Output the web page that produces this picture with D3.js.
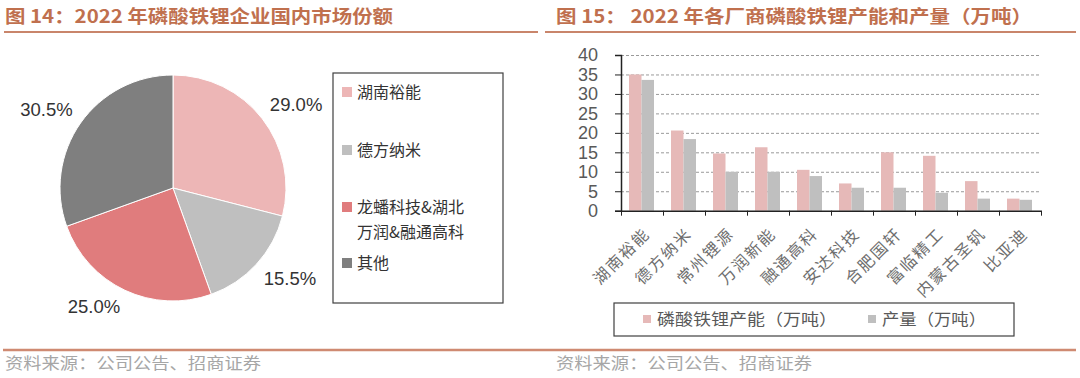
<!DOCTYPE html>
<html>
<head>
<meta charset="utf-8">
<script src="https://cdn.jsdelivr.net/npm/d3@7"></script>
<style>
  html, body { margin: 0; padding: 0; background: #fff; }
  svg { display: block; }
</style>
</head>
<body>
<div id="chart"></div>
<script>
// ---- data ----
const pieNames = ["湖南裕能", "德方纳米", "龙蟠科技&湖北万润&融通高科", "其他"];
const pieLegendLines = [["湖南裕能"], ["德方纳米"], ["龙蟠科技&湖北", "万润&融通高科"], ["其他"]];
const pieShares = [29.0, 15.5, 25.0, 30.5];
const pieColors = ["#edb6b6", "#bfbfbf", "#e07c7d", "#7f7f7f"];

const companies = ["湖南裕能", "德方纳米", "常州锂源", "万润新能", "融通高科", "安达科技", "合肥国轩", "富临精工", "内蒙古圣钒", "比亚迪"];
const capacity = [35.0, 20.6, 14.7, 16.3, 10.5, 7.0, 15.0, 14.1, 7.6, 3.1];
const output = [33.6, 18.4, 10.0, 10.0, 8.9, 5.9, 5.9, 4.6, 3.1, 2.8];
const seriesNames = ["磷酸铁锂产能（万吨）", "产量（万吨）"];
const seriesColors = ["#e6b9b8", "#bfbfbf"];
const yTicks = [0, 5, 10, 15, 20, 25, 30, 35, 40];

const W = 1080, H = 378;
const titleColor = "#c0704e";
const cjk = "'Noto Sans CJK SC', sans-serif";
const latin = "'Liberation Sans', Arial, sans-serif";

const svg = d3.select("#chart").append("svg")
  .attr("width", W).attr("height", H);

// ---- titles & rules ----
svg.append("text").attr("x", 5).attr("y", 23)
  .attr("textLength", 388).attr("lengthAdjust", "spacingAndGlyphs")
  .style("font-family", cjk).style("font-size", "18px").style("font-weight", "bold")
  .attr("fill", titleColor)
  .text("图 14：2022 年磷酸铁锂企业国内市场份额");
svg.append("text").attr("x", 556).attr("y", 23)
  .attr("textLength", 476).attr("lengthAdjust", "spacingAndGlyphs")
  .style("font-family", cjk).style("font-size", "18px").style("font-weight", "bold")
  .attr("fill", titleColor)
  .text("图 15：  2022 年各厂商磷酸铁锂产能和产量（万吨）");

svg.append("line").attr("x1", 4).attr("x2", 538).attr("y1", 32).attr("y2", 32)
  .attr("stroke", "#c9856b").attr("stroke-width", 2);
svg.append("line").attr("x1", 545).attr("x2", 1076).attr("y1", 32).attr("y2", 32)
  .attr("stroke", "#c9856b").attr("stroke-width", 2);
svg.append("line").attr("x1", 3).attr("x2", 1076).attr("y1", 350).attr("y2", 350)
  .attr("stroke", "#cf8a72").attr("stroke-width", 2.5);

[5, 556].forEach(x0 => {
  svg.append("text").attr("x", x0).attr("y", 369)
    .attr("textLength", 256).attr("lengthAdjust", "spacingAndGlyphs")
    .style("font-family", cjk).style("font-size", "16px")
    .attr("fill", "#a6a6a6")
    .text("资料来源：公司公告、招商证券");
});

// ---- pie ----
const cx = 173, cy = 188, R = 113;
const pieG = svg.append("g").attr("transform", `translate(${cx},${cy})`);
const pie = d3.pie().sort(null).value(d => d)(pieShares);
const arc = d3.arc().innerRadius(0).outerRadius(R);
const labelArc = d3.arc().innerRadius(R + 8).outerRadius(R + 8);

pieG.selectAll("path.slice").data(pie).join("path")
  .attr("class", "slice")
  .attr("d", arc)
  .attr("fill", (d, i) => pieColors[i])
  .attr("stroke", "#fff").attr("stroke-width", 1);

// outside-end labels: box corner sits just outside the rim
const lblW = 55, lblH = 18;
pieG.selectAll("text.pct").data(pie).join("text")
  .attr("class", "pct")
  .attr("transform", d => {
    const [px, py] = labelArc.centroid(d);
    return `translate(${px + Math.sign(px) * lblW / 2},${py + Math.sign(py) * lblH / 2})`;
  })
  .attr("text-anchor", "middle").attr("dy", "0.35em")
  .style("font-family", latin).style("font-size", "18.5px")
  .attr("fill", "#333")
  .text(d => d.data.toFixed(1) + "%");

// pie legend
svg.append("rect").attr("x", 333).attr("y", 73).attr("width", 170).attr("height", 230)
  .attr("fill", "none").attr("stroke", "#404040").attr("stroke-width", 1.2);
const pieLegendY = [98, 156, 213, 269];
pieLegendLines.forEach((lines, i) => {
  svg.append("rect").attr("x", 342).attr("y", pieLegendY[i] - 11).attr("width", 10).attr("height", 10)
    .attr("fill", pieColors[i]);
  lines.forEach((ln, j) => {
    svg.append("text").attr("x", 357).attr("y", pieLegendY[i] + j * 25)
      .style("font-family", cjk).style("font-size", "16px")
      .attr("fill", "#333")
      .text(ln);
  });
});

// ---- bar chart ----
const x0 = 621, x1 = 1041, yTop = 55, yBot = 210.7;
const x = d3.scaleBand().domain(companies).range([x0, x1]).padding(0);
const xs = d3.scaleBand().domain(seriesNames).range([8, 33]).padding(0);
const y = d3.scaleLinear().domain([0, 40]).range([yBot, yTop]);

// gridlines
svg.append("g").attr("transform", `translate(${x0},0)`)
  .call(d3.axisLeft(y).tickValues(yTicks.slice(1)).tickSize(-(x1 - x0)).tickFormat(""))
  .call(g => g.select(".domain").remove())
  .call(g => g.selectAll("line").attr("stroke", "#9a9a9a").attr("stroke-dasharray", "3,2").attr("stroke-width", 1));

// bars
const barData = companies.map((c, i) => ({ c, vals: [capacity[i], output[i]] }));
const groups = svg.selectAll("g.grp").data(barData).join("g")
  .attr("class", "grp")
  .attr("transform", d => `translate(${x(d.c)},0)`);
groups.selectAll("rect").data(d => d.vals.map((v, k) => ({ v, k }))).join("rect")
  .attr("x", d => xs(seriesNames[d.k]))
  .attr("width", xs.bandwidth())
  .attr("y", d => y(d.v))
  .attr("height", d => yBot - y(d.v))
  .attr("fill", d => seriesColors[d.k]);

// y axis
svg.append("g").attr("transform", `translate(${x0},0)`)
  .call(d3.axisLeft(y).tickValues(yTicks).tickSize(6).tickPadding(17))
  .call(g => g.select(".domain").attr("stroke", "#222").attr("stroke-width", 1.5))
  .call(g => g.selectAll("line").attr("stroke", "#222"))
  .call(g => g.selectAll("text").style("font-family", latin).style("font-size", "18px").attr("fill", "#595959"));

// x axis (ticks at category boundaries)
const xb = d3.scaleLinear().domain([0, companies.length]).range([x0, x1]);
svg.append("g").attr("transform", `translate(0,${yBot})`)
  .call(d3.axisBottom(xb).ticks(companies.length).tickSize(5).tickSizeOuter(0).tickFormat(""))
  .call(g => g.select(".domain").attr("stroke", "#222").attr("stroke-width", 1.5))
  .call(g => g.selectAll("line").attr("stroke", "#222"));

// rotated category labels
svg.selectAll("text.cat").data(companies).join("text")
  .attr("class", "cat")
  .attr("transform", d => `translate(${x(d) + x.bandwidth() / 2 + 9},${yBot + 24}) rotate(-45)`)
  .attr("text-anchor", "end")
  .style("font-family", cjk).style("font-size", "16px").style("letter-spacing", "2px")
  .attr("fill", "#6e6e6e")
  .text(d => d);

// bar legend
svg.append("rect").attr("x", 614).attr("y", 303).attr("width", 400).attr("height", 33)
  .attr("fill", "none").attr("stroke", "#404040").attr("stroke-width", 1.2);
const legX = [643, 868], legTextX = [657, 882], legLen = [180, 104];
seriesNames.forEach((s, i) => {
  svg.append("rect").attr("x", legX[i]).attr("y", 315).attr("width", 8).attr("height", 8)
    .attr("fill", seriesColors[i]);
  svg.append("text").attr("x", legTextX[i]).attr("y", 325)
    .attr("textLength", legLen[i]).attr("lengthAdjust", "spacingAndGlyphs")
    .style("font-family", cjk).style("font-size", "16px")
    .attr("fill", "#595959")
    .text(s);
});
</script>
</body>
</html>
